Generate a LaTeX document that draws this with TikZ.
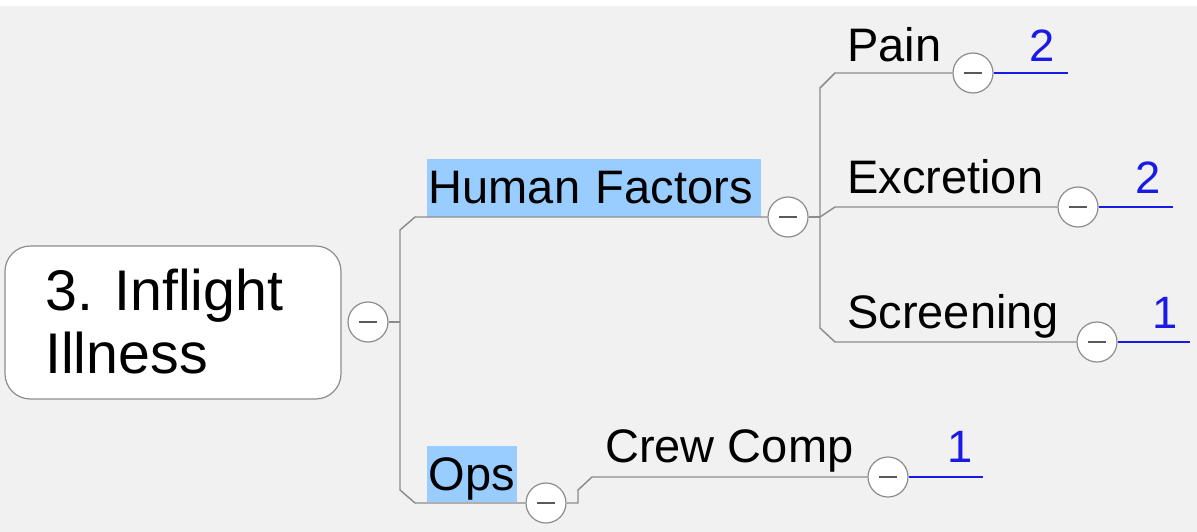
\documentclass[tikz,border=0pt]{standalone}
\usepackage{fontspec}
\setmainfont{Liberation Sans}
\definecolor{bgc}{HTML}{F1F1F1}
\definecolor{hlc}{HTML}{99CCFF}
\definecolor{lnc}{HTML}{8C8C8C}
\definecolor{numc}{HTML}{1A1AE6}
\begin{document}
\begin{tikzpicture}[x=0.75pt,y=-0.75pt,
  conn/.style={draw=lnc,line width=1.1pt},
  bconn/.style={draw=numc,line width=1.1pt},
  toggle/.style={circle,draw=lnc,fill=white,line width=0.9pt,minimum size=30pt,inner sep=0pt,
    path picture={\draw[black!65,line width=1.8pt] ([xshift=-6.8pt]path picture bounding box.center) -- ([xshift=6.8pt]path picture bounding box.center);}},
  lbl/.style={anchor=base west,inner sep=0pt,font=\fontsize{35.25}{40}\selectfont},
  num/.style={anchor=base,inner sep=0pt,text=numc,font=\fontsize{34}{40}\selectfont},
  hl/.style={anchor=base west,fill=hlc,inner xsep=1.5pt,inner ysep=0pt,align=left,font=\fontsize{35.25}{40}\selectfont}
]
\useasboundingbox (0,0) rectangle (1197,532);
\fill[bgc] (0,0) rectangle (1197,532);
\fill[white] (0,0) rectangle (1197,6);

% root
\node[draw=lnc,fill=white,rounded corners=19pt,line width=0.9pt,minimum width=252pt,minimum height=114.75pt,inner sep=0pt] (root) at (173,322.5) {};
\node[anchor=base west,inner sep=0pt,align=left,font=\fontsize{43}{47.25}\selectfont] (roottext) at (45,373) {3. Inflight\\Illness};

% toggles
\node[toggle] (c0) at (368,322) {};
\node[toggle] (c1) at (788,217) {};
\node[toggle] (c2) at (546,503) {};
\node[toggle] (cp) at (973,73) {};
\node[toggle] (ce) at (1078,207) {};
\node[toggle] (cs) at (1097,342) {};
\node[toggle] (cc) at (888,477) {};

% branch labels
\node[hl,text width=248pt,text height=33pt,text depth=10.5pt] (hf) at (426.5,203) {Human Factors};
\node[hl,text width=64.5pt,text height=33pt,text depth=9pt] (ops) at (426.5,490) {Ops};
\node[lbl] (pain) at (847,61) {Pain};
\node[lbl] (excr) at (847,193) {Excretion};
\node[lbl] (scr) at (847,328) {Screening};
\node[lbl] (crew) at (605,462) {Crew Comp};

\node[num] (np) at (1042,61) {2};
\node[num] (ne) at (1148,193) {2};
\node[num] (ns) at (1165,328) {1};
\node[num] (nc) at (960,462) {1};

% coordinates
\coordinate (j0) at (400,322);
\coordinate (a1) at (400,230);
\coordinate (a2) at (415,217);
\coordinate (b1) at (400,490);
\coordinate (b2) at (415,503);
\coordinate (j1) at (820,217);
\coordinate (p1) at (820,88);
\coordinate (p2) at (835,73);
\coordinate (q1) at (820,328);
\coordinate (q2) at (835,342);
\coordinate (e2) at (835,207);
\coordinate (k1) at (578,503);
\coordinate (k2) at (578,490);
\coordinate (k3) at (592,477);
\coordinate (pe) at (1068,73);
\coordinate (ee) at (1173,207);
\coordinate (se) at (1190,342);
\coordinate (ce2) at (983,477);

\draw[conn] (c0.east) -- (j0);
\draw[conn] (c1.west) -- (a2) -- (a1) -- (b1) -- (b2) -- (c2.west);
\draw[conn] (c1.east) -- (j1);
\draw[conn] (cp.west) -- (p2) -- (p1) -- (q1) -- (q2) -- (cs.west);
\draw[conn] (j1) -- (e2) -- (ce.west);
\draw[conn] (c2.east) -- (k1) -- (k2) -- (k3) -- (cc.west);
\draw[bconn] (cp.east) -- (pe);
\draw[bconn] (ce.east) -- (ee);
\draw[bconn] (cs.east) -- (se);
\draw[bconn] (cc.east) -- (ce2);
\end{tikzpicture}
\end{document}
